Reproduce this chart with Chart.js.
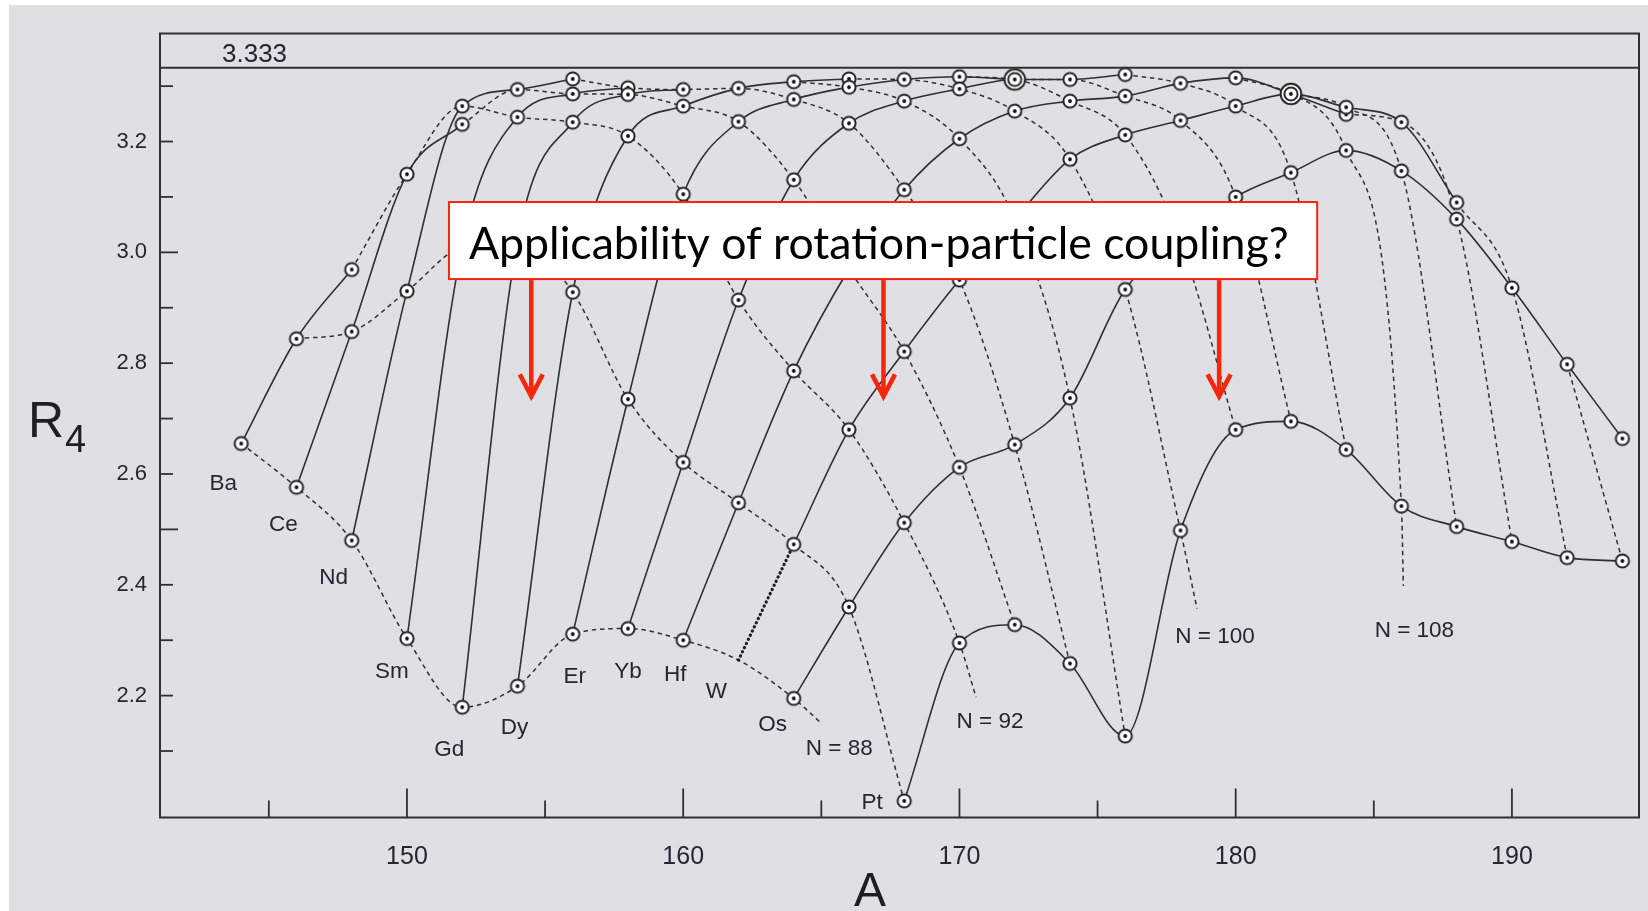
<!DOCTYPE html>
<html>
<head>
<meta charset="utf-8">
<title>R4/2 systematics, A = 144-194</title>
<script src="https://cdn.jsdelivr.net/npm/chart.js@4.4.1/dist/chart.umd.min.js"></script>
<style>
  html, body { margin: 0; padding: 0; background: #fff; }
  canvas { display: block; }
</style>
</head>
<body>
<canvas id="r42Chart" width="1648" height="911"></canvas>
<script>
// Ratio E(4+)/E(2+) for even-even nuclei, one array per element, even A from firstMass upward
const elements = ['Ba', 'Ce', 'Nd', 'Sm', 'Gd', 'Dy', 'Er', 'Yb', 'Hf', 'W', 'Os', 'Pt'];
const protonNumbers = [56, 58, 60, 62, 64, 66, 68, 70, 72, 74, 76, 78];
const firstMass = [144, 146, 148, 150, 152, 154, 156, 158, 160, 164, 164, 168];

const r42Ba = [2.655, 2.844, 2.969];
const r42Ce = [2.576, 2.857, 3.141, 3.231];
const r42Nd = [2.480, 2.930, 3.264, 3.294, 3.313];
const r42Sm = [2.303, 3.01, 3.244, 3.286, 3.297];
const r42Gd = [2.179, 3.02, 3.235, 3.285, 3.294];
const r42Dy = [2.217, 2.928, 3.210, 3.264, 3.296, 3.308, 3.313];
const r42Er = [2.311, 2.735, 3.105, 3.236, 3.276, 3.298, 3.312, 3.317, 3.312];
const r42Yb = [2.321, 2.621, 2.914, 3.131, 3.233, 3.273, 3.295, 3.312, 3.312, 3.321];
const r42Hf = [2.300, 2.548, 2.786, 2.97, 3.113, 3.205, 3.255, 3.273, 3.282, 3.305, 3.315, 3.286, 3.249];
const r42W  = [2.473, 2.680, 2.821, 2.95, 3.06, 3.168, 3.212, 3.238, 3.264, 3.286, 3.262, 3.235, 3.090];
const r42Os = [2.195, 2.360, 2.512, 2.612, 2.653, 2.737, 2.933, 3.02, 3.100, 3.144, 3.184, 3.147, 3.060, 2.936, 2.798, 2.664];
const r42Pt = [2.010, 2.295, 2.328, 2.258, 2.127, 2.498, 2.680, 2.695, 2.644, 2.542, 2.505, 2.478, 2.449, 2.443];
const ratios = [r42Ba, r42Ce, r42Nd, r42Sm, r42Gd, r42Dy, r42Er, r42Yb, r42Hf, r42W, r42Os, r42Pt];

// 162W is not measured: [A, R4/2] estimate, joined to 164W by a dotted line
const wLeadIn = [162, 2.264];

// isotone lines that run on past the last nucleus
const tailN = [88, 92, 100, 108];
const tailMass = [165.0, 170.6, 178.6, 186.07];
const tailRatio = [2.150, 2.197, 2.357, 2.398];

const massTicks = [150, 160, 170, 180, 190];
const massTickMarks = [145, 150, 155, 160, 165, 170, 175, 180, 185, 190];
const ratioTicks = [2.2, 2.4, 2.6, 2.8, 3.0, 3.2];
const ratioTickMarks = [2.1, 2.2, 2.3, 2.4, 2.5, 2.6, 2.7, 2.8, 2.9, 3.0, 3.1, 3.2, 3.3];
const ratioLongTicks = [2.5, 3.0];
const rotorLimit = 3.333;

const calloutText = 'Applicability of rotation-particle coupling?';
const arrowMass = [154.5, 167.25, 179.4];

// ---- layout / style (not data) ----
const labelOffsets = [[-18, 40], [-13, 38], [-18, 37], [-15, 33], [-13, 43], [-3, 42],
                      [2, 43], [0, 43], [-8, 35], [-22, 32], [-21, 26], [-32, 2]];
const tailLabelOffsets = [[18, 25], [14, 25], [18, 28], [11, 45]];
const boxMass = [151.52, 182.95];
const boxRatio = [3.0908, 2.9518];
const arrowTipRatio = 2.740;

const INK = '#2f2f34';
const TEXT = '#262633';
const RED = '#f7260a';
const LABEL_FONT = "'Liberation Sans', Arial, Helvetica, sans-serif";

Chart.defaults.font.family = LABEL_FONT;

// collect every nucleus
const nuclei = [];
elements.forEach((el, i) => {
  ratios[i].forEach((r, k) => {
    nuclei.push({ z: protonNumbers[i], a: firstMass[i] + 2 * k, r: r });
  });
});

// element (solid) lines
const elementSets = elements.map((el, i) => ({
  label: el,
  data: ratios[i].map((r, k) => ({ x: firstMass[i] + 2 * k, y: r })),
  borderColor: INK,
  borderWidth: 1.6,
  pointRadius: 0,
  fill: false,
  cubicInterpolationMode: 'monotone',
  order: 2
}));

const wIdx = elements.indexOf('W');
const leadInSet = {
  label: 'W lead-in',
  data: [{ x: wLeadIn[0], y: wLeadIn[1] }, { x: firstMass[wIdx], y: r42W[0] }],
  borderColor: '#1e1e22',
  borderWidth: 3.2,
  borderDash: [0.2, 4.4],
  borderCapStyle: 'round',
  pointRadius: 0,
  fill: false,
  order: 2
};

// isotone (dashed) lines, N = A - Z
const withLead = nuclei.concat([{ z: protonNumbers[wIdx], a: wLeadIn[0], r: wLeadIn[1] }]);
const isotoneSets = [];
const tailEnds = {};
for (let n = 86; n <= 120; n += 2) {
  const pts = withLead.filter(p => p.a - p.z === n).sort((p, q) => p.z - q.z)
    .map(p => ({ x: p.a, y: p.r }));
  const t = tailN.indexOf(n);
  if (t >= 0) {
    pts.push({ x: tailMass[t], y: tailRatio[t] });
    tailEnds[n] = pts[pts.length - 1];
  }
  if (pts.length < 2) continue;
  isotoneSets.push({
    label: 'N = ' + n,
    data: pts,
    borderColor: '#2f2f35',
    borderWidth: 1.5,
    borderDash: [4.5, 3.8],
    pointRadius: 0,
    fill: false,
    cubicInterpolationMode: 'monotone',
    order: 3
  });
}

// circle-dot markers; coinciding nuclei get a double ring
function makeMarker(rings) {
  const size = rings > 1 ? 26 : 18;
  const c = document.createElement('canvas');
  c.width = size; c.height = size;
  const g = c.getContext('2d');
  const m = size / 2;
  g.fillStyle = '#ffffff';
  g.strokeStyle = '#262629';
  g.lineWidth = 2;
  if (rings > 1) {
    g.beginPath(); g.arc(m, m, 10.3, 0, Math.PI * 2); g.fill(); g.stroke();
  }
  g.beginPath(); g.arc(m, m, 6.6, 0, Math.PI * 2); g.fill(); g.stroke();
  g.fillStyle = '#0d0d0d';
  g.beginPath(); g.arc(m, m, 1.9, 0, Math.PI * 2); g.fill();
  return c;
}
const singleMark = makeMarker(1);
const doubleMark = makeMarker(2);

const counts = {};
nuclei.forEach(p => { const k = p.a + ':' + p.r; counts[k] = (counts[k] || 0) + 1; });
const markerPts = [];
const markerStyles = [];
Object.keys(counts).forEach(k => {
  const [a, r] = k.split(':').map(Number);
  markerPts.push({ x: a, y: r });
  markerStyles.push(counts[k] > 1 ? doubleMark : singleMark);
});

const markerSet = {
  label: 'nuclei',
  data: markerPts,
  showLine: false,
  pointStyle: markerStyles,
  pointRadius: 6,
  order: 0
};

function line(ctx, x1, y1, x2, y2) {
  ctx.beginPath(); ctx.moveTo(x1, y1); ctx.lineTo(x2, y2); ctx.stroke();
}

const decorations = {
  id: 'decorations',
  beforeDraw(chart) {
    const ctx = chart.ctx;
    ctx.save();
    ctx.fillStyle = '#ffffff';
    ctx.fillRect(0, 0, chart.width, chart.height);
    ctx.fillStyle = '#dfdfe4';
    ctx.fillRect(9, 5, chart.width - 9, chart.height - 5);
    ctx.restore();
  },
  afterDatasetsDraw(chart) {
    const ctx = chart.ctx;
    const xs = chart.scales.x, ys = chart.scales.y;
    const { left, right, top, bottom } = chart.chartArea;
    ctx.save();

    // frame and inward ticks
    ctx.strokeStyle = INK;
    ctx.lineWidth = 2;
    ctx.strokeRect(left, top, right - left, bottom - top);
    ctx.lineWidth = 1.8;
    massTickMarks.forEach(v => {
      const x = xs.getPixelForValue(v);
      const len = massTicks.includes(v) ? 29 : 17;
      line(ctx, x, bottom, x, bottom - len);
    });
    ratioTickMarks.forEach(v => {
      const y = ys.getPixelForValue(v);
      const len = ratioLongTicks.some(t => Math.abs(t - v) < 1e-6) ? 18 : 13;
      line(ctx, left, y, left + len, y);
    });

    // rigid rotor limit
    const yl = ys.getPixelForValue(rotorLimit);
    ctx.lineWidth = 2;
    line(ctx, left, yl, right, yl);
    ctx.fillStyle = TEXT;
    ctx.font = '26px ' + LABEL_FONT;
    ctx.textAlign = 'left';
    ctx.textBaseline = 'alphabetic';
    ctx.fillText(rotorLimit.toFixed(3), 222, yl - 6);

    // element names beside the lightest isotope
    ctx.font = '22.5px ' + LABEL_FONT;
    ctx.textAlign = 'center';
    ctx.textBaseline = 'middle';
    elements.forEach((el, i) => {
      const a0 = el === 'W' ? wLeadIn[0] : firstMass[i];
      const r0 = el === 'W' ? wLeadIn[1] : ratios[i][0];
      const x = xs.getPixelForValue(a0) + labelOffsets[i][0];
      const y = ys.getPixelForValue(r0) + labelOffsets[i][1];
      ctx.fillText(el, x, y);
    });

    // isotone labels at the line ends
    tailN.forEach((n, i) => {
      const p = tailEnds[n];
      if (!p) return;
      const x = xs.getPixelForValue(p.x) + tailLabelOffsets[i][0];
      const y = ys.getPixelForValue(p.y) + tailLabelOffsets[i][1];
      ctx.fillText('N = ' + n, x, y);
    });

    // callout box with arrows
    const bx1 = xs.getPixelForValue(boxMass[0]), bx2 = xs.getPixelForValue(boxMass[1]);
    const by1 = ys.getPixelForValue(boxRatio[0]), by2 = ys.getPixelForValue(boxRatio[1]);
    ctx.fillStyle = '#ffffff';
    ctx.fillRect(bx1, by1, bx2 - bx1, by2 - by1);
    ctx.strokeStyle = RED;
    ctx.lineWidth = 2;
    ctx.strokeRect(bx1, by1, bx2 - bx1, by2 - by1);

    ctx.font = '100px Lato, "Open Sans", sans-serif';
    const w100 = ctx.measureText(calloutText).width;
    const size = 100 * 820 / w100;
    ctx.font = size.toFixed(2) + 'px Lato, "Open Sans", sans-serif';
    ctx.fillStyle = '#000';
    ctx.textAlign = 'left';
    ctx.textBaseline = 'alphabetic';
    ctx.fillText(calloutText, bx1 + 20, by1 + 56.6);

    ctx.strokeStyle = RED;
    ctx.lineWidth = 4.5;
    ctx.lineCap = 'butt';
    const yTip = ys.getPixelForValue(arrowTipRatio);
    arrowMass.forEach(a => {
      const x = xs.getPixelForValue(a);
      line(ctx, x, by2 + 1, x, yTip - 2);
      ctx.beginPath();
      ctx.moveTo(x - 11.5, yTip - 22);
      ctx.lineTo(x, yTip);
      ctx.lineTo(x + 11.5, yTip - 22);
      ctx.stroke();
    });

    // axis titles
    ctx.fillStyle = '#1e1e24';
    ctx.textAlign = 'left';
    ctx.font = '50px ' + LABEL_FONT;
    ctx.fillText('R', 28, 437);
    const rw = ctx.measureText('R').width;
    ctx.font = '38px ' + LABEL_FONT;
    ctx.fillText('4', 28 + rw + 1, 452);
    ctx.font = '48px ' + LABEL_FONT;
    ctx.textAlign = 'center';
    ctx.fillText('A', 870, 906);

    ctx.restore();
  }
};

new Chart(document.getElementById('r42Chart').getContext('2d'), {
  type: 'line',
  data: {
    datasets: [markerSet, leadInSet].concat(elementSets, isotoneSets)
  },
  options: {
    responsive: false,
    animation: false,
    devicePixelRatio: 1,
    layout: { padding: { top: 33.5, right: 9, left: 0, bottom: 0 } },
    plugins: {
      legend: { display: false },
      tooltip: { enabled: false }
    },
    scales: {
      x: {
        type: 'linear',
        min: 141.06,
        max: 194.6,
        grid: { display: false, drawTicks: false },
        border: { display: false },
        afterBuildTicks: s => { s.ticks = massTicks.map(v => ({ value: v })); },
        afterFit: s => { s.height = 93.5; },
        ticks: {
          padding: 25,
          color: TEXT,
          font: { size: 25 },
          maxRotation: 0,
          callback: v => String(v)
        }
      },
      y: {
        type: 'linear',
        min: 1.98,
        max: 3.395,
        grid: { display: false, drawTicks: false },
        border: { display: false },
        afterBuildTicks: s => { s.ticks = ratioTicks.map(v => ({ value: v })); },
        afterFit: s => { s.width = 160; },
        ticks: {
          padding: 13,
          color: TEXT,
          font: { size: 22 },
          callback: v => Number(v).toFixed(1)
        }
      }
    }
  },
  plugins: [decorations]
});
</script>
</body>
</html>
